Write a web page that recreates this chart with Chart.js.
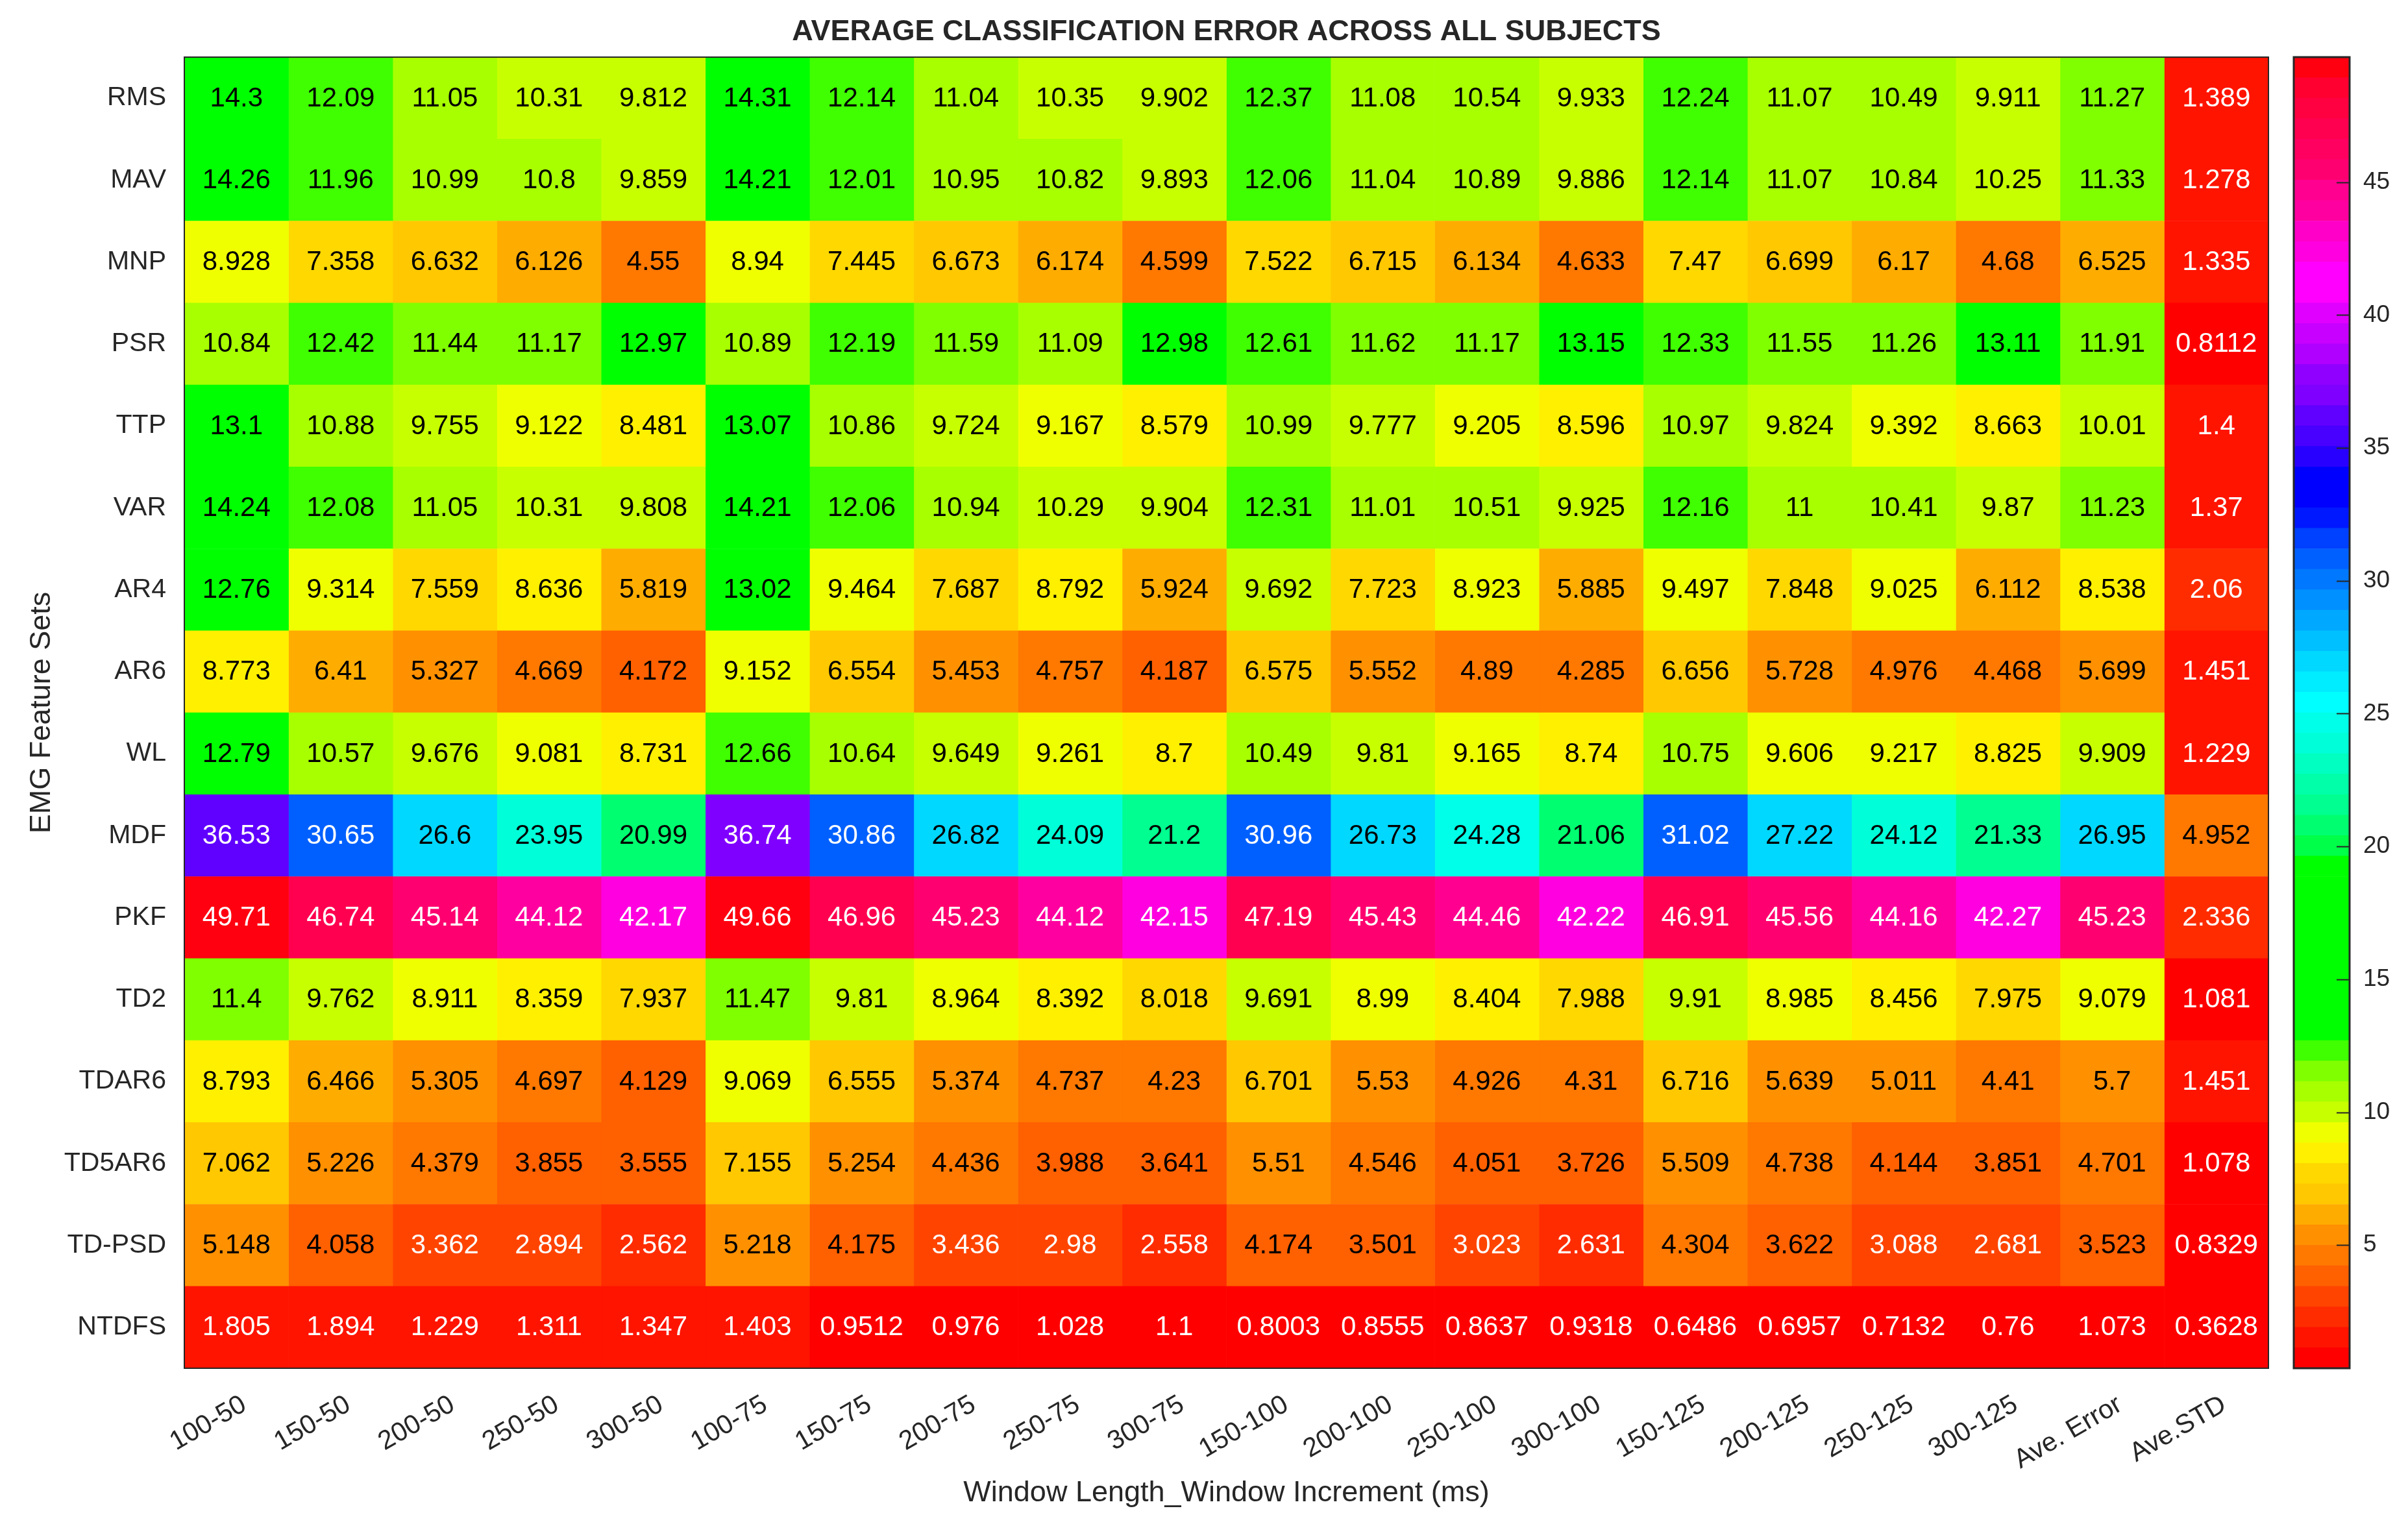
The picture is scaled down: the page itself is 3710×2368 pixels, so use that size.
<!DOCTYPE html>
<html>
<head>
<meta charset="utf-8">
<title>Average classification error across all subjects</title>
<script src="https://cdn.jsdelivr.net/npm/chart.js@4.4.1/dist/chart.umd.min.js"></script>
<style>
  html, body { margin: 0; padding: 0; background: #fff; }
  #wrap { position: relative; width: 3710px; height: 2368px; }
  #heat { position: absolute; left: 0; top: 0; }
  #bar { position: absolute; left: 3500px; top: 0; }
</style>
</head>
<body>
<div id="wrap">
  <canvas id="heat" width="3710" height="2368"></canvas>
  <canvas id="bar" width="210" height="2368"></canvas>
</div>
<script>
// Axis labels
const featureSets = ['RMS', 'MAV', 'MNP', 'PSR', 'TTP', 'VAR', 'AR4', 'AR6', 'WL', 'MDF', 'PKF', 'TD2', 'TDAR6', 'TD5AR6', 'TD-PSD', 'NTDFS'];
const windowLabels = ['100-50', '150-50', '200-50', '250-50', '300-50', '100-75', '150-75', '200-75', '250-75', '300-75',
  '150-100', '200-100', '250-100', '300-100', '150-125', '200-125', '250-125', '300-125', 'Ave. Error', 'Ave.STD'];

// Classification error (%) per feature set, one value per column above
const rms = [14.3, 12.09, 11.05, 10.31, 9.812, 14.31, 12.14, 11.04, 10.35, 9.902, 12.37, 11.08, 10.54, 9.933, 12.24, 11.07, 10.49, 9.911, 11.27, 1.389];
const mav = [14.26, 11.96, 10.99, 10.8, 9.859, 14.21, 12.01, 10.95, 10.82, 9.893, 12.06, 11.04, 10.89, 9.886, 12.14, 11.07, 10.84, 10.25, 11.33, 1.278];
const mnp = [8.928, 7.358, 6.632, 6.126, 4.55, 8.94, 7.445, 6.673, 6.174, 4.599, 7.522, 6.715, 6.134, 4.633, 7.47, 6.699, 6.17, 4.68, 6.525, 1.335];
const psr = [10.84, 12.42, 11.44, 11.17, 12.97, 10.89, 12.19, 11.59, 11.09, 12.98, 12.61, 11.62, 11.17, 13.15, 12.33, 11.55, 11.26, 13.11, 11.91, 0.8112];
const ttp = [13.1, 10.88, 9.755, 9.122, 8.481, 13.07, 10.86, 9.724, 9.167, 8.579, 10.99, 9.777, 9.205, 8.596, 10.97, 9.824, 9.392, 8.663, 10.01, 1.4];
const vari = [14.24, 12.08, 11.05, 10.31, 9.808, 14.21, 12.06, 10.94, 10.29, 9.904, 12.31, 11.01, 10.51, 9.925, 12.16, 11, 10.41, 9.87, 11.23, 1.37];
const ar4 = [12.76, 9.314, 7.559, 8.636, 5.819, 13.02, 9.464, 7.687, 8.792, 5.924, 9.692, 7.723, 8.923, 5.885, 9.497, 7.848, 9.025, 6.112, 8.538, 2.06];
const ar6 = [8.773, 6.41, 5.327, 4.669, 4.172, 9.152, 6.554, 5.453, 4.757, 4.187, 6.575, 5.552, 4.89, 4.285, 6.656, 5.728, 4.976, 4.468, 5.699, 1.451];
const wl = [12.79, 10.57, 9.676, 9.081, 8.731, 12.66, 10.64, 9.649, 9.261, 8.7, 10.49, 9.81, 9.165, 8.74, 10.75, 9.606, 9.217, 8.825, 9.909, 1.229];
const mdf = [36.53, 30.65, 26.6, 23.95, 20.99, 36.74, 30.86, 26.82, 24.09, 21.2, 30.96, 26.73, 24.28, 21.06, 31.02, 27.22, 24.12, 21.33, 26.95, 4.952];
const pkf = [49.71, 46.74, 45.14, 44.12, 42.17, 49.66, 46.96, 45.23, 44.12, 42.15, 47.19, 45.43, 44.46, 42.22, 46.91, 45.56, 44.16, 42.27, 45.23, 2.336];
const td2 = [11.4, 9.762, 8.911, 8.359, 7.937, 11.47, 9.81, 8.964, 8.392, 8.018, 9.691, 8.99, 8.404, 7.988, 9.91, 8.985, 8.456, 7.975, 9.079, 1.081];
const tdar6 = [8.793, 6.466, 5.305, 4.697, 4.129, 9.069, 6.555, 5.374, 4.737, 4.23, 6.701, 5.53, 4.926, 4.31, 6.716, 5.639, 5.011, 4.41, 5.7, 1.451];
const td5ar6 = [7.062, 5.226, 4.379, 3.855, 3.555, 7.155, 5.254, 4.436, 3.988, 3.641, 5.51, 4.546, 4.051, 3.726, 5.509, 4.738, 4.144, 3.851, 4.701, 1.078];
const tdpsd = [5.148, 4.058, 3.362, 2.894, 2.562, 5.218, 4.175, 3.436, 2.98, 2.558, 4.174, 3.501, 3.023, 2.631, 4.304, 3.622, 3.088, 2.681, 3.523, 0.8329];
const ntdfs = [1.805, 1.894, 1.229, 1.311, 1.347, 1.403, 0.9512, 0.976, 1.028, 1.1, 0.8003, 0.8555, 0.8637, 0.9318, 0.6486, 0.6957, 0.7132, 0.76, 1.073, 0.3628];

const matrix = [rms, mav, mnp, psr, ttp, vari, ar4, ar6, wl, mdf, pkf, td2, tdar6, td5ar6, tdpsd, ntdfs];

// Colorbar ticks
const cbTicks = [5, 10, 15, 20, 25, 30, 35, 40, 45];

// 64-step colormap, low values first
const palette = [
  '#ff0000', '#ff1400', '#ff2c00', '#ff4400', '#ff6000', '#ff7800', '#ff9000', '#ffac00',
  '#ffc800', '#ffd800', '#fff000', '#f0ff00', '#c8ff00', '#a8ff00', '#80ff00', '#40ff00',
  '#00ff00', '#00ff00', '#00ff00', '#00ff00', '#00ff00', '#00ff00', '#00ff00', '#00ff00',
  '#00ff00', '#00ff48', '#00ff70', '#00ff90', '#00ffa8', '#00ffc0', '#00ffd8', '#00ffe8',
  '#00ffff', '#00ecff', '#00d8ff', '#00c0ff', '#00a8ff', '#0090ff', '#0078ff', '#0060ff',
  '#0040ff', '#0018ff', '#0000ff', '#0000ff', '#2800ff', '#4800ff', '#6000ff', '#8000ff',
  '#9000ff', '#b000ff', '#c800ff', '#e000ff', '#ff00ff', '#ff00ff', '#ff00e0', '#ff00c8',
  '#ff00a0', '#ff0090', '#ff0070', '#ff0060', '#ff0050', '#ff0040', '#ff0030', '#ff0010'
];

const FONT = '"Liberation Sans", Arial, Helvetica, sans-serif';
const INK = '#262626';

const allValues = matrix.flat();
const cmin = Math.min(...allValues);
const cmax = Math.max(...allValues);
const step = (cmax - cmin) / palette.length;

function colorFor(v) {
  let k = Math.floor((v - cmin) / (cmax - cmin) * palette.length);
  k = Math.max(0, Math.min(palette.length - 1, k));
  return palette[k];
}

// black text on light cells, white on dark ones
function textColorFor(v) {
  const hex = colorFor(v);
  const r = parseInt(hex.slice(1, 3), 16) / 255;
  const g = parseInt(hex.slice(3, 5), 16) / 255;
  const b = parseInt(hex.slice(5, 7), 16) / 255;
  const lum = 0.299 * r + 0.587 * g + 0.114 * b;
  return lum > 0.5 ? '#000000' : '#ffffff';
}

// Cell labels, frame and title for the heatmap
const heatDecor = {
  id: 'heatDecor',
  afterDatasetsDraw(chart) {
    const ctx = chart.ctx;
    ctx.save();
    ctx.font = `42px ${FONT}`;
    ctx.textAlign = 'center';
    ctx.textBaseline = 'middle';
    chart.data.datasets.forEach((ds, c) => {
      chart.getDatasetMeta(c).data.forEach((bar, r) => {
        const v = matrix[r][c];
        const p = bar.getCenterPoint();
        ctx.fillStyle = textColorFor(v);
        ctx.fillText(String(v), p.x, p.y + 1);
      });
    });
    ctx.restore();
  },
  afterDraw(chart) {
    const { ctx, chartArea } = chart;
    ctx.save();
    ctx.strokeStyle = INK;
    ctx.lineWidth = 2;
    ctx.strokeRect(chartArea.left, chartArea.top, chartArea.right - chartArea.left, chartArea.bottom - chartArea.top);
    ctx.fillStyle = INK;
    ctx.font = `bold 45px ${FONT}`;
    ctx.textAlign = 'center';
    ctx.textBaseline = 'middle';
    ctx.fillText('AVERAGE CLASSIFICATION ERROR ACROSS ALL SUBJECTS', (chartArea.left + chartArea.right) / 2, 50);
    ctx.restore();
  }
};

new Chart(document.getElementById('heat'), {
  type: 'bar',
  data: {
    labels: featureSets,
    datasets: windowLabels.map((col, c) => ({
      label: col,
      data: featureSets.map(() => [c, c + 1]),
      backgroundColor: (ctx) => colorFor(matrix[ctx.dataIndex][c]),
      borderWidth: 0,
      grouped: false,
      barPercentage: 1,
      categoryPercentage: 1,
    })),
  },
  options: {
    indexAxis: 'y',
    responsive: false,
    animation: false,
    events: [],
    layout: { padding: { top: 88, right: 215, bottom: 0, left: 0 } },
    plugins: { legend: { display: false }, tooltip: { enabled: false }, title: { display: false } },
    scales: {
      x: {
        type: 'linear',
        min: 0,
        max: windowLabels.length,
        grid: { display: false },
        border: { display: false },
        afterBuildTicks: (axis) => {
          axis.ticks = windowLabels.map((_, i) => ({ value: i + 0.5 }));
        },
        afterFit: (axis) => { axis.height = 260; },
        ticks: {
          autoSkip: false,
          minRotation: 30,
          maxRotation: 30,
          padding: 24,
          labelOffset: 12,
          color: INK,
          font: { family: FONT, size: 41 },
          callback: (value, i) => windowLabels[i],
        },
        title: {
          display: true,
          text: 'Window Length_Window Increment (ms)',
          color: INK,
          font: { family: FONT, size: 45 },
          padding: { bottom: 40 },
        },
      },
      y: {
        type: 'category',
        grid: { display: false },
        border: { display: false },
        afterFit: (axis) => { axis.width = 284; },
        ticks: { padding: 20, color: INK, font: { family: FONT, size: 41 } },
        title: {
          display: true,
          text: 'EMG Feature Sets',
          color: INK,
          font: { family: FONT, size: 45 },
          padding: { top: 38 },
        },
      },
    },
  },
  plugins: [heatDecor],
});

// Colorbar frame and inward tick marks
const barDecor = {
  id: 'barDecor',
  afterDraw(chart) {
    const { ctx, chartArea } = chart;
    const yScale = chart.scales.y;
    ctx.save();
    ctx.strokeStyle = INK;
    ctx.lineWidth = 2;
    cbTicks.forEach((v) => {
      const y = Math.round(yScale.getPixelForValue(v)) + 0.5;
      ctx.beginPath();
      ctx.moveTo(chartArea.right - 20, y);
      ctx.lineTo(chartArea.right, y);
      ctx.stroke();
    });
    ctx.lineWidth = 3;
    ctx.strokeRect(chartArea.left, chartArea.top, chartArea.right - chartArea.left, chartArea.bottom - chartArea.top);
    ctx.restore();
  }
};

new Chart(document.getElementById('bar'), {
  type: 'bar',
  data: {
    labels: [''],
    datasets: palette.map((col, k) => ({
      data: [[cmin + k * step, cmin + (k + 1) * step]],
      backgroundColor: col,
      borderWidth: 0,
      grouped: false,
      barPercentage: 1,
      categoryPercentage: 1,
    })),
  },
  options: {
    responsive: false,
    animation: false,
    events: [],
    layout: { padding: { top: 88, right: 0, bottom: 260, left: 34 } },
    plugins: { legend: { display: false }, tooltip: { enabled: false } },
    scales: {
      x: { display: false },
      y: {
        position: 'right',
        min: cmin,
        max: cmax,
        grid: { display: false },
        border: { display: false },
        afterBuildTicks: (axis) => {
          axis.ticks = cbTicks.map((v) => ({ value: v }));
        },
        afterFit: (axis) => { axis.width = 90; },
        ticks: { padding: 13, color: INK, font: { family: FONT, size: 37 } },
      },
    },
  },
  plugins: [barDecor],
});
</script>
</body>
</html>
